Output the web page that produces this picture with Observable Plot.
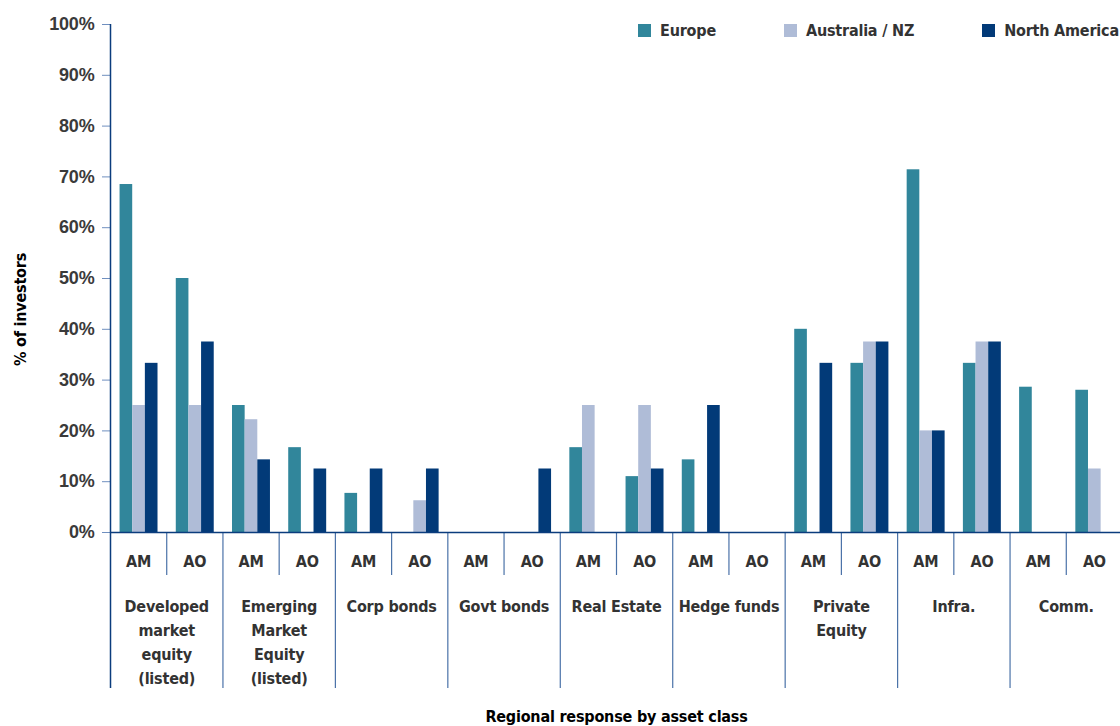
<!DOCTYPE html>
<html><head><meta charset="utf-8">
<script src="https://cdn.jsdelivr.net/npm/d3@7"></script>
<script src="https://cdn.jsdelivr.net/npm/@observablehq/plot@0.6"></script>
<style>
html,body{margin:0;padding:0;background:#fff;overflow:hidden}
#wrap{position:relative;width:1120px;height:726px;overflow:hidden}
#legend{position:absolute;left:638px;top:14px;width:600px}
.leg-swatches{font-family:"DejaVu Sans Condensed","Liberation Sans Narrow",sans-serif;font-size:16px;font-weight:bold;letter-spacing:-0.2px;color:#333;margin:0}
.leg-swatches-wrap{flex-wrap:nowrap}
.leg-swatch{margin-right:68px}
.leg-swatch > svg{margin-right:9px}
</style></head><body>
<div id="wrap"><div id="chart"></div><div id="legend"></div></div>
<script>
const categories = ["Developed\nmarket\nequity\n(listed)", "Emerging\nMarket\nEquity\n(listed)", "Corp bonds", "Govt bonds", "Real Estate", "Hedge funds", "Private\nEquity", "Infra.", "Comm."];
const subgroups = ["AM", "AO"];
const regions = ["Europe", "Australia / NZ", "North America"];
const colors = ["#31869B", "#AFBCD7", "#023A78"];
// values per slot: Dev AM, Dev AO, EM AM, EM AO, Corp AM, Corp AO, Govt AM, Govt AO, RE AM, RE AO, HF AM, HF AO, PE AM, PE AO, Infra AM, Infra AO, Comm AM, Comm AO
const europe       = [68.5, 50.0, 25.0, 16.7, 7.7, 0, 0, 0, 16.7, 11.0, 14.3, 0, 40.0, 33.3, 71.4, 33.3, 28.6, 28.0];
const australia    = [25.0, 25.0, 22.2, 0, 0, 6.25, 0, 0, 25.0, 25.0, 0, 0, 0, 37.5, 20.0, 37.5, 0, 12.5];
const northAmerica = [33.3, 37.5, 14.3, 12.5, 12.5, 12.5, 0, 12.5, 0, 12.5, 25.0, 0, 33.3, 37.5, 20.0, 37.5, 0, 0];
const yTicks = [0, 10, 20, 30, 40, 50, 60, 70, 80, 90, 100];

const series = [europe, australia, northAmerica];
const slots = categories.flatMap((c, ci) => subgroups.map((s, si) => ({cat: c, sub: s, i: ci * 2 + si})));
const bars = slots.flatMap(s => regions.map((r, ri) => ({region: r, ri, i: s.i, value: series[ri][s.i]}))).filter(d => d.value > 0);

const groupStart = 0.17, barW = 0.225;
const font = '"DejaVu Sans Condensed","Liberation Sans Narrow",sans-serif';
const axisColor = "#0b3c7d";
const sepColor = "#4a72a8";
const frameH = 532 - 24;

const chart = Plot.plot({
  width: 1120,
  height: 726,
  marginLeft: 110,
  marginRight: -2,
  marginTop: 24,
  marginBottom: 194,
  style: {fontFamily: font, background: "#fff", letterSpacing: "-0.2px"},
  x: {domain: [0, slots.length], axis: null},
  y: {domain: [0, 100], axis: null},
  color: {domain: regions, range: colors},
  marks: [
    Plot.rectY(bars, {
      x1: d => d.i + groupStart + d.ri * barW,
      x2: d => d.i + groupStart + (d.ri + 1) * barW,
      y1: 0, y2: "value", fill: "region"
    }),
    Plot.axisY(yTicks, {
      tickFormat: d => d + "%", tickSize: 8, tickPadding: 8,
      stroke: "#6f8fbf", fill: "#3a3a3a", fontSize: 18, fontWeight: "bold",
      fontFamily: '"Liberation Sans",Arial,sans-serif', label: null
    }),
    Plot.axisX(slots.map(s => s.i + 0.5), {
      tickFormat: d => subgroups[Math.floor(d) % 2], tickSize: 0, tickPadding: 23,
      fill: "#333", fontSize: 16, fontWeight: "bold", label: null
    }),
    // left axis line extending into the label area
    Plot.ruleX([0], {stroke: axisColor, strokeWidth: 1.5, insetBottom: -156}),
    // long separators between asset classes
    Plot.ruleX(d3.range(2, slots.length, 2), {stroke: sepColor, strokeWidth: 1.2, insetTop: frameH, insetBottom: -156}),
    // short separators between AM and AO
    Plot.ruleX(d3.range(1, slots.length, 2), {stroke: sepColor, strokeWidth: 1.2, insetTop: frameH, insetBottom: -43}),
    Plot.ruleY([0], {stroke: axisColor, strokeWidth: 1.5}),
    Plot.text(categories, {
      x: (d, i) => 2 * i + 1, frameAnchor: "bottom", lineAnchor: "top", dy: 62,
      lineHeight: 1.5, fontSize: 16, fontWeight: "bold", fill: "#333"
    }),
    Plot.text(["Regional response by asset class"], {
      frameAnchor: "bottom", lineAnchor: "top", dy: 178, fontSize: 16, fontWeight: "bold", fill: "#000"
    }),
    Plot.text(["% of investors"], {
      frameAnchor: "left", textAnchor: "middle", rotate: -90, dx: -90, dy: 31, fontSize: 16, fontWeight: "bold", fill: "#000"
    })
  ]
});
document.getElementById("chart").appendChild(chart);

const legend = Plot.legend({
  color: {domain: regions, range: colors},
  legend: "swatches", swatchSize: 13, className: "leg"
});
document.getElementById("legend").appendChild(legend);
</script>
</body></html>
